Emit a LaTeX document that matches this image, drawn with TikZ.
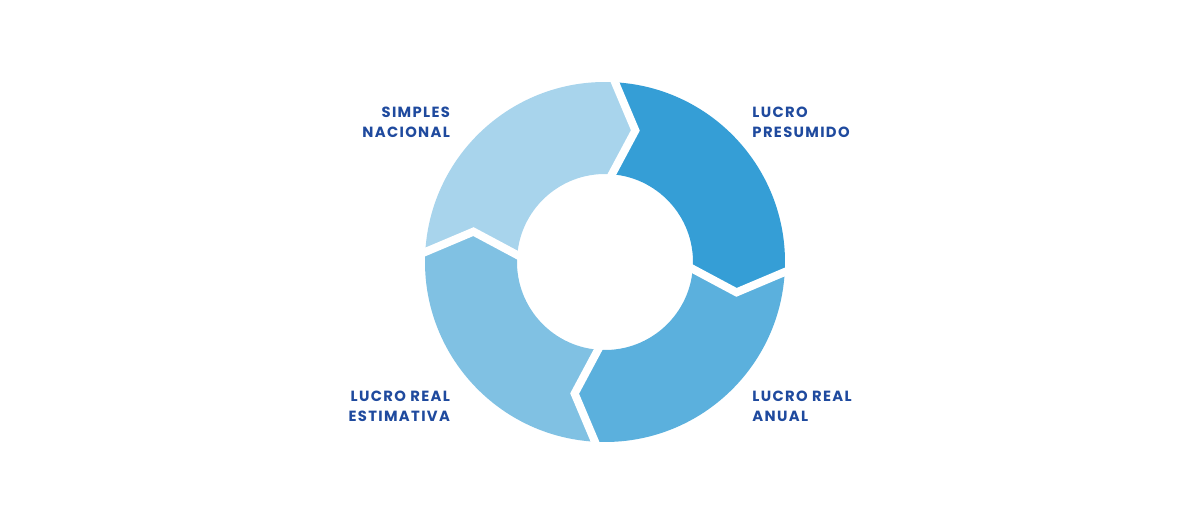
\documentclass[tikz,border=0pt]{standalone}
\usepackage{fontspec}
\setmainfont{Poppins}[LetterSpace=9]
\usepackage{tikz}
\usetikzlibrary{positioning}
\definecolor{labelblue}{HTML}{1F4A9E}
\definecolor{segA}{HTML}{A8D4EC}
\definecolor{segB}{HTML}{359ED6}
\definecolor{segC}{HTML}{5BB0DD}
\definecolor{segD}{HTML}{80C1E3}
\tikzstyle{ringlabel} = [text=labelblue, 
font=\bfseries\fontsize{10.5}{14}\selectfont, 
inner sep=0pt]
\tikzstyle{segment} = [draw=none]
\tikzstyle{cut} = [draw=white, line width=0.2cm, miter limit=10]
% one ring piece, from angle #1 down to angle #1-90
\newcommand{\ringpiece}[2]{%
  \fill [segment, fill=#2] (#1:4.5) arc (#1:#1-90:4.5)
    -- (#1-101:3.375) -- (#1-90:2.2) arc (#1-90:#1:2.2)
    -- (#1-11:3.375) -- cycle;}

\begin{document}
\begin{tikzpicture}
  \useasboundingbox (-15.125,-6.275) rectangle (14.875,6.55);

  \ringpiece{178}{segA}
  \ringpiece{88}{segB}
  \ringpiece{-2}{segC}
  \ringpiece{-92}{segD}
  \foreach \b in {88,-2,-92,178}
    \draw [cut] (\b:4.7) -- (\b-11:3.375) -- (\b:2.0);

  \node (simples) [ringlabel, align=right, anchor=east] at (-3.87,3.5) {SIMPLES\\NACIONAL};
  \node (presumido) [ringlabel, align=left, anchor=west] at (3.68,3.5) {LUCRO\\PRESUMIDO};
  \node (anual) [ringlabel, align=left, anchor=west] at (3.68,-3.6) {LUCRO REAL\\ANUAL};
  \node (estimativa) [ringlabel, align=right, anchor=east] at (-3.87,-3.6) {LUCRO REAL\\ESTIMATIVA};

\end{tikzpicture}
\end{document}
